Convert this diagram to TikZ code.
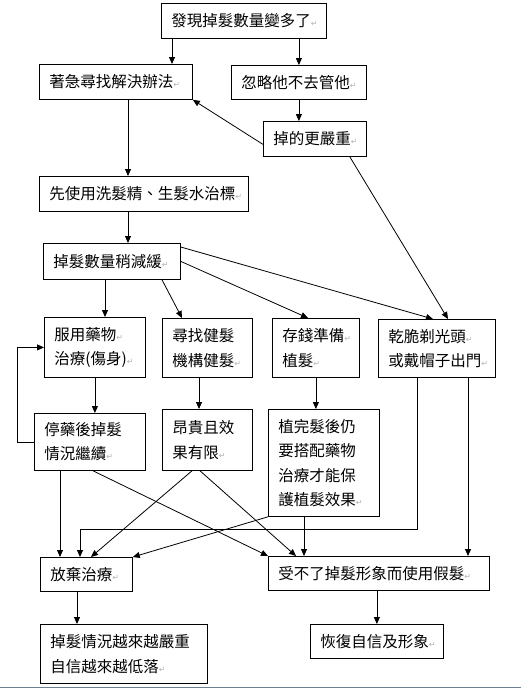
\documentclass[tikz,border=0pt]{standalone}
\usepackage{fontspec}
\usepackage{xcolor}
\usepackage{tikz}
\usetikzlibrary{positioning,calc,arrows.meta}
\newfontfamily\cjk{Noto Sans CJK TC}
\newfontfamily\symfont{DejaVu Sans}
\definecolor{EdgeGray}{RGB}{110,128,144}
\newcommand\rmk{{\symfont\fontsize{8}{8}\selectfont\color{gray!60}↵}}
\hfuzz=30pt
\hbadness=10000

\begin{document}
\begin{tikzpicture}[x=1pt, y=-1pt,
                % Style cho khung
                box/.style 2 args={draw, line width=0.8pt, anchor=north west, inner xsep=10pt, inner ysep=0pt,
                    text width=#1, minimum height=#2, align=left,
                    font=\cjk\fontsize{15.5}{24.5}\selectfont},
                % Style mũi tên
                arr/.style={-{Triangle[length=7pt,width=6pt]}, line width=0.8pt}
            ]
                \useasboundingbox (0,0) rectangle (521,689);

                % --- KHUNG ---
                % Tầng trên
                \node[box={145pt}{35pt}] (A) at (161,3) {發現掉髮數量變多了\rmk};
                \node[box={133pt}{35pt}] (B) at (39,64) {著急尋找解決辦法\rmk};
                \node[box={115pt}{34pt}] (C) at (231,65) {忽略他不去管他\rmk};
                \node[box={83pt}{35pt}] (D) at (263,121) {掉的更嚴重\rmk};
                \node[box={189pt}{35pt}] (E) at (39,176) {先使用洗髮精、生髮水治標\rmk};
                \node[box={117pt}{36pt}] (G) at (43,243) {掉髮數量稍減緩\rmk};

                % Tầng giữa
                \node[box={81pt}{60pt}] (H) at (44,317) {服用藥物\rmk\\治療(傷身)\rmk};
                \node[box={70pt}{59pt}] (I) at (162,318) {尋找健髮\\機構健髮\rmk};
                \node[box={67pt}{59pt}] (J) at (272,318) {存錢準備\rmk\\植髮\rmk};
                \node[box={97pt}{58pt}] (F) at (378,319) {乾脆剃光頭\rmk\\或戴帽子出門\rmk};

                \node[box={91pt}{57pt}] (K) at (34,413) {停藥後掉髮\\情況繼續\rmk};
                \node[box={70pt}{61pt}] (L) at (162,409) {昂貴且效\\果有限\rmk};
                \node[box={91pt}{107pt}] (M) at (268,409) {植完髮後仍\\要搭配藥物\\治療才能保\\護植髮效果\rmk};

                % Tầng dưới
                \node[box={72pt}{34pt}] (N) at (40,557) {放棄治療\rmk};
                \node[box={201pt}{34pt}] (O) at (268,556) {受不了掉髮形象而使用假髮\rmk};
                \node[box={147pt}{59pt}] (P) at (40,624) {掉髮情況越來越嚴重\\自信越來越低落\rmk};
                \node[box={113pt}{34pt}] (Q) at (310,624) {恢復自信及形象\rmk};

                % --- MŨI TÊN ---
                \draw[arr] ([xshift=11pt]A.south west) -- ([xshift=11pt]A.south west |- B.north);
                \draw[arr] (C.north |- A.south) -- (C.north);
                \draw[arr] (C.south) -- (C.south |- D.north);
                \draw[arr] ([yshift=-5.5pt]D.west) -- (B.south east);
                \draw[arr] ([xshift=-17pt]D.south east) -- ([xshift=70pt]F.north west);
                \draw[arr] ([xshift=89pt]B.south west) -- ([xshift=89pt]B.south west |- E.north);
                \draw[arr] ([xshift=89pt]E.south west) -- ([xshift=89pt]E.south west |- G.north);

                % Từ G tỏa ra
                \draw[arr] ([xshift=62pt]G.south west) -- ([xshift=62pt]G.south west |- H.north);
                \draw[arr] ([xshift=119pt]G.south west) -- ([xshift=20pt]I.north west);
                \draw[arr] (G.east) -- ([xshift=36pt]J.north west);
                \draw[arr] ([yshift=-4pt]G.north east) -- ([xshift=55pt]F.north west);

                \draw[arr] (H.south) -- (H.south |- K.north);
                \draw[arr] ([xshift=37pt]I.south west) -- ([xshift=37pt]I.south west |- L.north);
                \draw[arr] (J.south) -- (J.south |- M.north);
                \draw[arr] (K.west) -- ++(-17,0) |- (H.west); % vòng lặp

                % Về N
                \draw[arr] ([xshift=26pt]K.south west) -- ([xshift=26pt]K.south west |- N.north);
                \draw[arr] ([xshift=39pt]F.south west) -- ++(0,152) -| ([xshift=40pt]N.north west);
                \draw[arr] ([xshift=30pt]L.south west) -- ([xshift=51pt]N.north west);
                \draw[arr] (M.south west) -- (N.north east);

                % Về O
                \draw[arr] ([xshift=59pt]K.south west) -- (O.north west);
                \draw[arr] ([xshift=38pt]L.south west) -- ([xshift=28pt]O.north west);
                \draw[arr] ([xshift=36pt]M.south west) -- ([xshift=36pt]M.south west |- O.north);
                \draw[arr] ([xshift=90pt]F.south west) -- ([xshift=90pt]F.south west |- O.north);

                \draw[arr] ([xshift=37pt]N.south west) -- ([xshift=37pt]N.south west |- P.north);
                \draw[arr] (Q.north |- O.south) -- (Q.north);

                % Viền dưới
                \draw[EdgeGray, line width=1pt] (0,687) -- (521,687);

            \end{tikzpicture}
\end{document}
